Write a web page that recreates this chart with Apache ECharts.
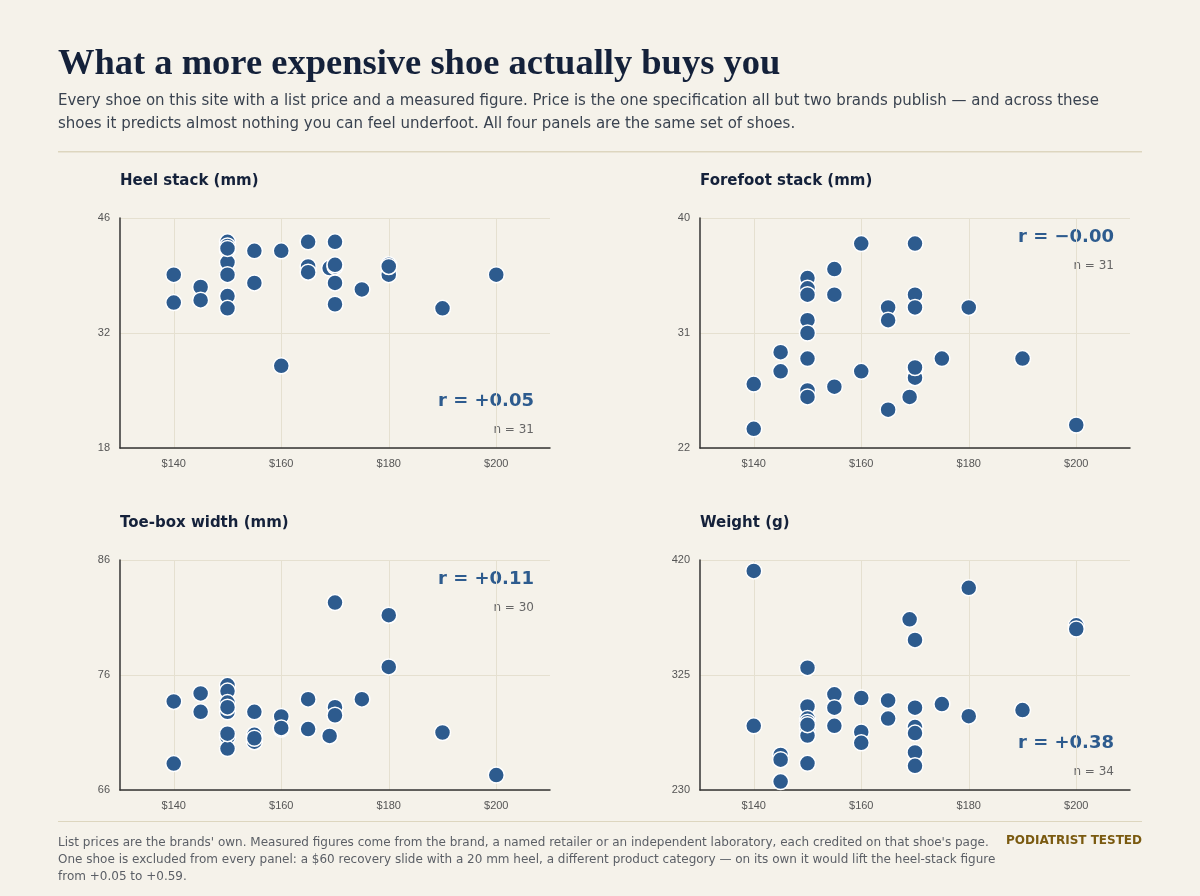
<!DOCTYPE html>
<html><head><meta charset="utf-8">
<script src="https://cdn.jsdelivr.net/npm/echarts@6/dist/echarts.min.js"></script>
<style>html,body{margin:0;padding:0;background:#f5f2ea}#c{width:1200px;height:896px}</style>
</head><body><div id="c"></div>
<script>
const heelPrice  = [140,140,145,145,150,150,150,150,150,150,150,150,155,155,160,160,165,165,165,169,170,170,170,170,170,175,180,180,180,190,200];
const heelValue  = [39.1,35.7,37.6,36.0,43.1,42.6,42.1,40.6,39.1,36.5,35.0,42.3,42.0,38.1,42.0,28.0,43.1,40.1,39.4,39.9,43.1,40.1,38.1,35.5,40.3,37.3,40.3,39.1,40.1,35.0,39.1];
const forePrice  = [140,140,145,145,150,150,150,150,150,150,150,150,155,155,155,160,160,165,165,165,169,170,170,170,170,170,175,180,190,200,170];
const foreValue  = [27.0,23.5,29.5,28.0,35.3,34.5,34.0,32.0,31.0,29.0,26.5,26.0,36.0,34.0,26.8,38.0,28.0,33.0,32.0,25.0,26.0,38.0,34.0,33.0,28.1,27.5,29.0,33.0,29.0,23.8,28.3];
const toePrice   = [140,140,145,145,150,150,150,150,150,150,150,155,155,155,155,160,160,165,165,169,170,170,170,175,180,180,190,200,150,160];
const toeValue   = [73.7,68.3,74.4,72.8,75.1,74.6,73.6,72.8,70.6,69.6,73.2,70.8,70.2,72.8,70.5,72.4,71.3,73.9,71.3,70.7,82.3,73.2,72.5,73.9,81.2,76.7,71.0,67.3,70.9,71.4];
const wtPrice    = [140,140,145,145,145,150,150,150,150,150,150,150,150,155,155,155,160,160,160,165,165,169,170,170,170,170,170,170,175,180,180,190,200,200];
const wtValue    = [411,283,259,255,237,331,299,289,286,281,275,252,284,309,298,283,306,278,269,304,289,371,354,298,282,277,261,250,301,397,291,296,366,363];
const panels = [
  {title:'Heel stack (mm)', px:heelPrice, py:heelValue, min:18, max:46, r:'r = +0.05', n:'n = 31', rTop:false},
  {title:'Forefoot stack (mm)', px:forePrice, py:foreValue, min:22, max:40, r:'r = \u22120.00', n:'n = 31', rTop:true},
  {title:'Toe-box width (mm)', px:toePrice, py:toeValue, min:66, max:86, r:'r = +0.11', n:'n = 30', rTop:true},
  {title:'Weight (g)', px:wtPrice, py:wtValue, min:230, max:420, r:'r = +0.38', n:'n = 34', rTop:false}
];
const xTicks = [140,160,180,200];
const boxes = [[120,218],[700,218],[120,560],[700,560]];
const W=430,H=230;
const chart = echarts.init(document.getElementById('c'));
const grid=[],xAxis=[],yAxis=[],series=[];
const graphic=[
  {type:'text',left:58,top:46,style:{text:'What a more expensive shoe actually buys you',font:'bold 36.5px "Liberation Serif", serif',fill:'#14213a'}},
  {type:'text',left:58,top:90,style:{text:'Every shoe on this site with a list price and a measured figure. Price is the one specification all but two brands publish \u2014 and across these\nshoes it predicts almost nothing you can feel underfoot. All four panels are the same set of shoes.',font:'15px "DejaVu Sans", sans-serif',fill:'#3a4350',lineHeight:23}},
  {type:'rect',shape:{x:58,y:151,width:1084,height:1.5},style:{fill:'#ddd6bf'}},
  {type:'rect',shape:{x:58,y:821,width:1084,height:1},style:{fill:'#ddd6bf'}},
  {type:'text',left:58,top:834,style:{text:"List prices are the brands' own. Measured figures come from the brand, a named retailer or an independent laboratory, each credited on that shoe's page.\nOne shoe is excluded from every panel: a $60 recovery slide with a 20 mm heel, a different product category \u2014 on its own it would lift the heel-stack figure\nfrom +0.05 to +0.59.",font:'12px "DejaVu Sans", sans-serif',fill:'#5b5f66',lineHeight:17}},
  {type:'text',x:1142,y:835,style:{text:'PODIATRIST TESTED',font:'bold 12px "DejaVu Sans", sans-serif',fill:'#7a5a10',align:'right'}}
];
panels.forEach((p,i)=>{
  const [l,t]=boxes[i];
  grid.push({left:l,top:t,width:W,height:H});
  xAxis.push({type:'value',gridIndex:i,min:130,max:210,
    axisLine:{show:true,lineStyle:{color:'#333',width:1.5}},axisTick:{show:false,customValues:xTicks},
    axisLabel:{customValues:xTicks,formatter:v=>'$'+v,color:'#555',fontSize:11,margin:10},
    splitLine:{show:true,lineStyle:{color:'#e5e0d0'}}});
  const yt=[p.min,(p.min+p.max)/2,p.max];
  yAxis.push({type:'value',gridIndex:i,min:p.min,max:p.max,
    axisLine:{show:true,lineStyle:{color:'#333',width:1.5}},axisTick:{show:false,customValues:yt},
    axisLabel:{customValues:yt,color:'#555',fontSize:11,margin:10},
    splitLine:{show:true,lineStyle:{color:'#e5e0d0'}}});
  series.push({type:'scatter',xAxisIndex:i,yAxisIndex:i,data:p.px.map((x,k)=>[x,p.py[k]]),
    symbolSize:16,itemStyle:{color:'#2d5b8e',borderColor:'#fff',borderWidth:1.5,opacity:1}});
  graphic.push({type:'text',left:l,top:t-44,style:{text:p.title,font:'bold 15px "DejaVu Sans", sans-serif',fill:'#14213a'}});
  const ry = p.rTop ? t+10 : t+H-56;
  graphic.push({type:'text',x:l+W-16,y:ry,style:{text:p.r,font:'bold 18px "DejaVu Sans", sans-serif',fill:'#2d5b8e',align:'right'}});
  graphic.push({type:'text',x:l+W-16,y:ry+32,style:{text:p.n,font:'12px "DejaVu Sans", sans-serif',fill:'#666',align:'right'}});
});
chart.setOption({backgroundColor:'#f5f2ea',animation:false,grid,xAxis,yAxis,series,graphic});
</script></body></html>
